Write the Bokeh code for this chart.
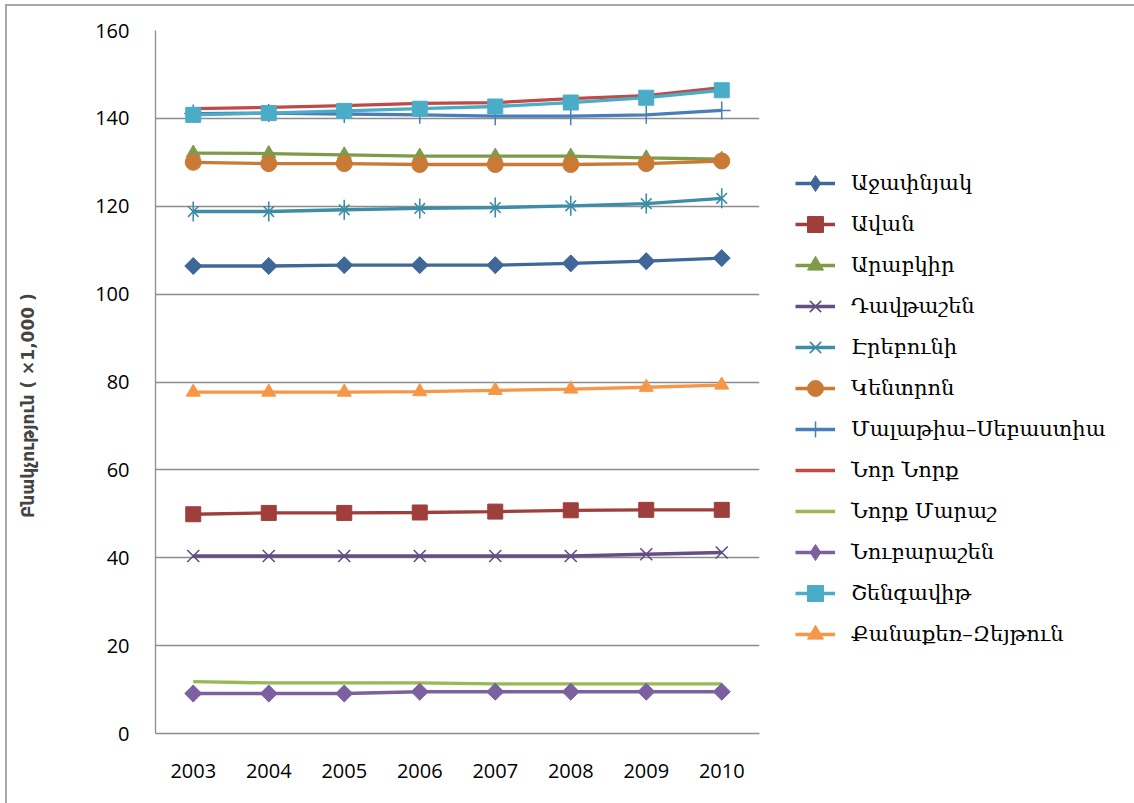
from bokeh.plotting import figure
from bokeh.models import Legend, LegendItem, FixedTicker, FactorRange, Range1d
from bokeh.embed import file_html
from bokeh.resources import INLINE
import math

years = ["2003", "2004", "2005", "2006", "2007", "2008", "2009", "2010"]
y_ticks = [0, 20, 40, 60, 80, 100, 120, 140, 160]

names = ["Աջափնյակ", "Ավան", "Արաբկիր", "Դավթաշեն", "Էրեբունի", "Կենտրոն",
         "Մալաթիա–Սեբաստիա", "Նոր Նորք", "Նորք Մարաշ", "Նուբարաշեն",
         "Շենգավիթ", "Քանաքեռ–Զեյթուն"]

ajapnyak = [106.4, 106.4, 106.6, 106.6, 106.6, 107.0, 107.5, 108.2]
avan = [49.9, 50.2, 50.2, 50.3, 50.5, 50.8, 50.9, 50.9]
arabkir = [132.1, 132.0, 131.7, 131.4, 131.4, 131.4, 131.0, 130.7]
davtashen = [40.4, 40.4, 40.4, 40.4, 40.4, 40.4, 40.8, 41.2]
erebuni = [118.8, 118.8, 119.2, 119.5, 119.7, 120.1, 120.6, 121.8]
kentron = [130.0, 129.7, 129.7, 129.5, 129.5, 129.5, 129.7, 130.3]
malatia = [141.1, 141.2, 141.0, 140.8, 140.5, 140.5, 140.8, 141.8]
nor_nork = [142.2, 142.5, 142.9, 143.4, 143.6, 144.5, 145.2, 147.0]
nork_marash = [11.8, 11.5, 11.5, 11.5, 11.3, 11.3, 11.3, 11.3]
nubarashen = [9.1, 9.1, 9.1, 9.5, 9.5, 9.5, 9.5, 9.5]
shengavit = [140.8, 141.2, 141.7, 142.2, 142.7, 143.6, 144.7, 146.4]
kanaker = [77.7, 77.7, 77.7, 77.8, 78.1, 78.4, 78.8, 79.3]

series = [ajapnyak, avan, arabkir, davtashen, erebuni, kentron,
          malatia, nor_nork, nork_marash, nubarashen, shengavit, kanaker]

colors = ["#3F6797", "#9E3F3C", "#7F9A48", "#644E82", "#3C8DA5", "#CB7A36",
          "#4A7EBB", "#BE4B48", "#98B954", "#7D60A0", "#4AACC6", "#F79646"]

FW, FH = 604, 703
OFF_X, OFF_Y = 7, 6

p = figure(x_range=FactorRange(*years, range_padding=0),
           y_range=Range1d(0, 160),
           frame_width=FW, frame_height=FH,
           min_border_left=155 - OFF_X, min_border_top=30 - OFF_Y,
           min_border_bottom=70, min_border_right=1134 - 759 - 2,
           output_backend="svg", toolbar_location=None,
           background_fill_color="white", border_fill_color="white")
p.styles = {"border-top": "2px solid #a8a8a8", "border-left": "2px solid #a8a8a8",
            "margin-left": "5px", "margin-top": "4px"}

p.outline_line_color = None
p.xgrid.grid_line_color = None
p.ygrid.grid_line_color = "#8c8c8c"
p.ygrid.grid_line_width = 1.3
p.yaxis.ticker = FixedTicker(ticks=y_ticks)

for ax in (p.xaxis, p.yaxis):
    ax.axis_line_color = "#8c8c8c"
    ax.axis_line_width = 1.3
    ax.major_tick_line_color = None
    ax.minor_tick_line_color = None
    ax.major_label_text_font = "Open Sans"
    ax.major_label_text_font_size = "20px"
    ax.major_label_text_color = "#000000"

p.yaxis.major_label_standoff = 20
p.xaxis.major_label_standoff = 24
p.yaxis.axis_label = "Բնակչություն ( ×1,000 )" + "\u00a0" * 8
p.yaxis.axis_label_text_font = "DejaVu Sans"
p.yaxis.axis_label_text_font_style = "bold"
p.yaxis.axis_label_text_font_size = "17px"
p.yaxis.axis_label_standoff = 54

items = []
lw = 3.3
for i, (nm, vals, c) in enumerate(zip(names, series, colors)):
    rs = []
    rs.append(p.line(years, vals, line_color=c, line_width=lw))
    if i in (0, 9):
        p.scatter(years, vals, marker="square", angle=math.pi / 4, size=12,
                  fill_color=c, line_color=c)
        rs.append(p.scatter(years, vals, marker="diamond", size=16,
                            fill_color=c, line_color=c))
    elif i in (1, 10):
        rs.append(p.scatter(years, vals, marker="square", size=15, fill_color=c, line_color=c))
    elif i in (2, 11):
        rs.append(p.scatter(years, vals, marker="triangle", size=14, fill_color=c, line_color=c))
    elif i == 3:
        rs.append(p.scatter(years, vals, marker="x", size=17, line_color=c, line_width=1.6))
    elif i == 4:
        rs.append(p.scatter(years, vals, marker="x", size=15, line_color=c, line_width=1.6))
        rs.append(p.scatter(years, vals, marker="dash", angle=math.pi / 2, size=20,
                            line_color=c, line_width=1.6))
    elif i == 5:
        rs.append(p.scatter(years, vals, marker="circle", size=16, fill_color=c, line_color=c))
    elif i == 6:
        rs.append(p.scatter(years, vals, marker="cross", size=18, line_color=c, line_width=1.5))
    items.append(LegendItem(label=nm, renderers=rs))

legend = Legend(items=items, location=(36, 79))
legend.padding = 0
legend.margin = 0
legend.border_line_color = None
legend.background_fill_alpha = 0
legend.glyph_width = 40
legend.glyph_height = 40
legend.label_height = 20
legend.spacing = 1
legend.label_standoff = 16
legend.label_text_font = "DejaVu Serif"
legend.label_text_font_size = "21px"
legend.label_text_color = "#000000"
p.add_layout(legend, "right")

open("out.html", "w").write(file_html(p, INLINE))
